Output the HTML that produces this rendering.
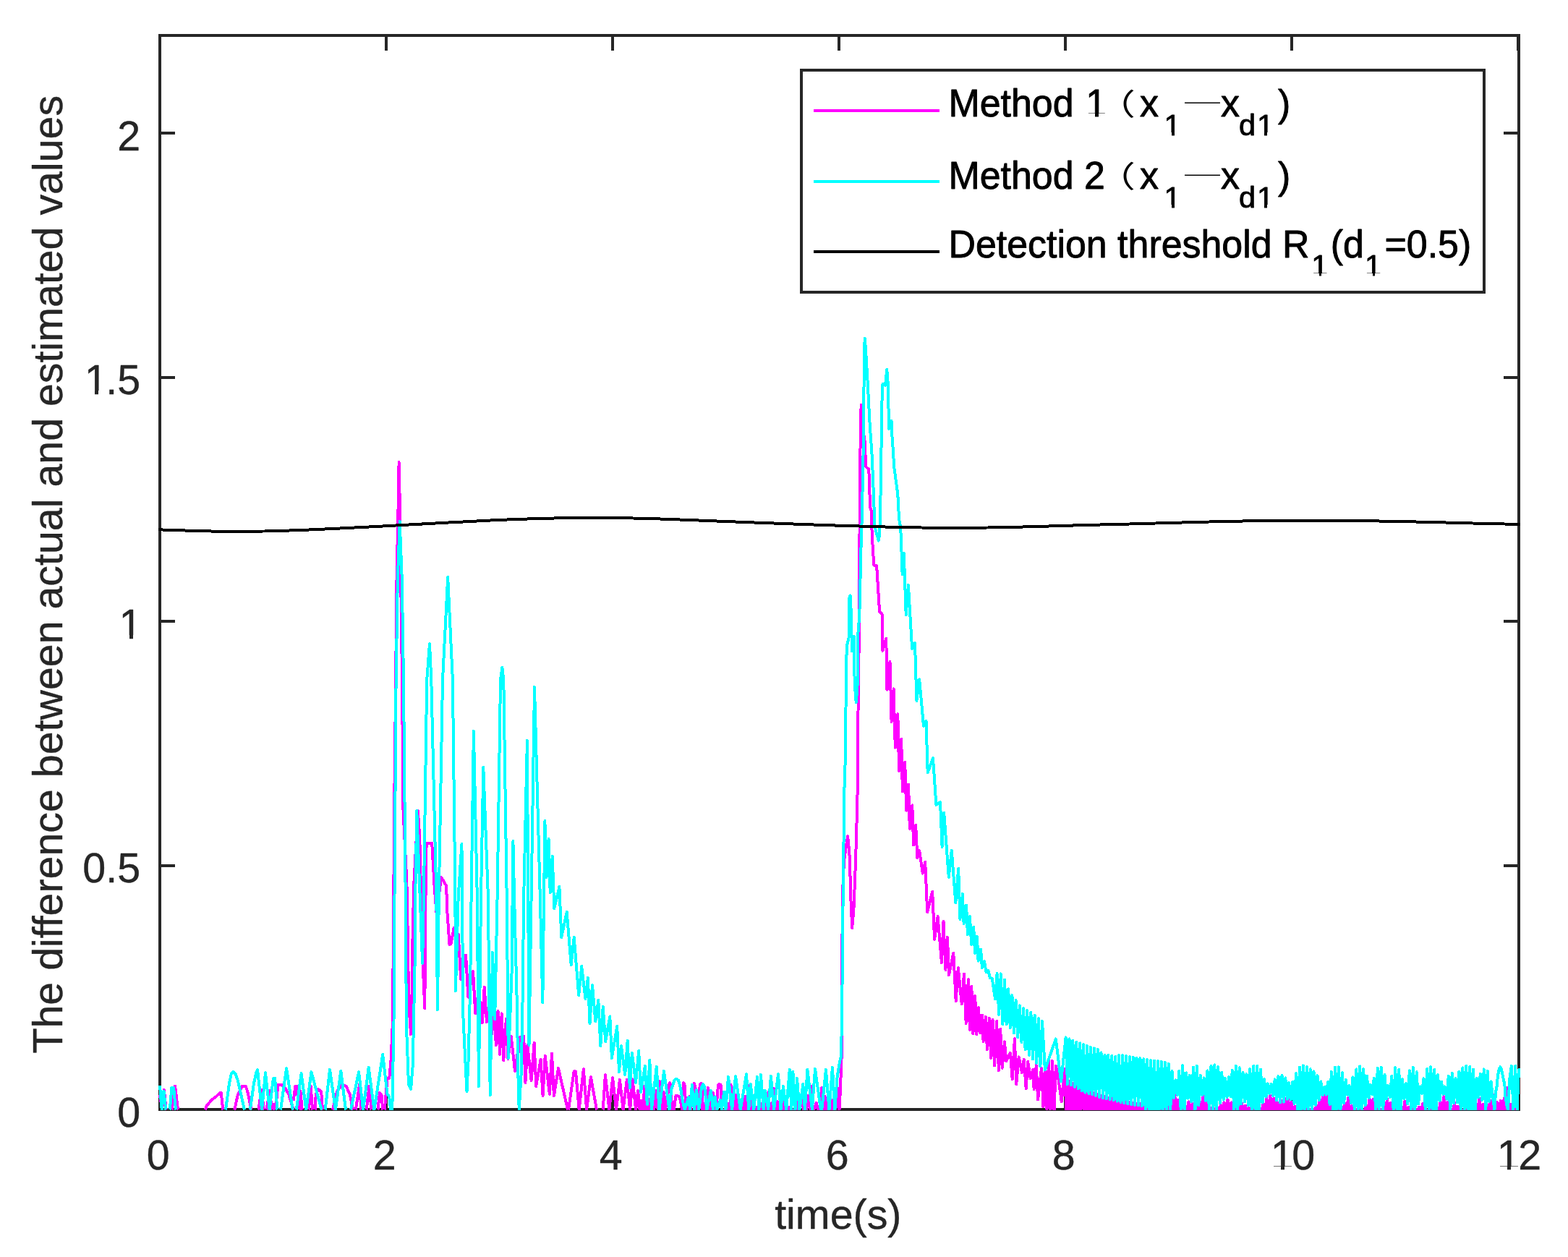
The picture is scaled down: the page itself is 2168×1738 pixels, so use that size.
<!DOCTYPE html>
<html lang="en"><head><meta charset="utf-8"><title>Detection threshold comparison</title>
<style>html,body{margin:0;padding:0;background:#fff}svg{display:block}text{font-kerning:normal}</style></head><body>
<svg xmlns="http://www.w3.org/2000/svg" width="2168" height="1738" viewBox="0 0 2168 1738">
<rect width="2168" height="1738" fill="#fff"/>
<defs><clipPath id="ax"><rect x="219" y="47" width="1883" height="1488"/></clipPath></defs>
<g shape-rendering="crispEdges"><rect x="221.0" y="49.0" width="1879.0" height="1485.0" fill="none" stroke="#262626" stroke-width="4"/>
<path d="M221.00 1534.0 V1513.0 M221.00 49.0 V70.0 M534.00 1534.0 V1513.0 M534.00 49.0 V70.0 M847.00 1534.0 V1513.0 M847.00 49.0 V70.0 M1160.00 1534.0 V1513.0 M1160.00 49.0 V70.0 M1473.00 1534.0 V1513.0 M1473.00 49.0 V70.0 M1786.00 1534.0 V1513.0 M1786.00 49.0 V70.0 M2099.00 1534.0 V1513.0 M2099.00 49.0 V70.0 M221.0 1534.00 H242.0 M2100.0 1534.00 H2079.0 M221.0 1196.50 H242.0 M2100.0 1196.50 H2079.0 M221.0 859.00 H242.0 M2100.0 859.00 H2079.0 M221.0 521.50 H242.0 M2100.0 521.50 H2079.0 M221.0 184.00 H242.0 M2100.0 184.00 H2079.0" stroke="#262626" stroke-width="4" fill="none"/></g>
<g clip-path="url(#ax)" shape-rendering="crispEdges">
<path d="M221.0 1514.2 L224.1 1534.5 L226.9 1506.8 L229.7 1534.5 M237.8 1534.5 L242.1 1501.6 L246.0 1534.5 M283.8 1534.5 L285.7 1529.0 L293.1 1520.2 L296.8 1517.9 L304.6 1510.9 L305.7 1510.9 L308.3 1534.5 M324.3 1534.5 L328.7 1514.2 L334.7 1502.0 L339.9 1502.0 L342.8 1511.2 L347.3 1534.5 M357.4 1534.5 L361.6 1506.7 L364.8 1534.5 M368.6 1534.5 L372.7 1507.7 L376.0 1534.5 M376.9 1534.5 L378.3 1526.7 L379.7 1534.5 M381.1 1534.5 L384.3 1500.2 L389.9 1500.2 L393.6 1503.5 L399.2 1512.8 L401.9 1522.0 L405.7 1534.5 M405.7 1522.0 L408.4 1501.6 L410.8 1501.6 L412.6 1534.5 M414.0 1534.5 L415.4 1509.0 L417.7 1534.5 M427.0 1534.5 L429.6 1501.6 L432.1 1534.5 M435.8 1534.5 L436.7 1512.8 L440.4 1506.3 L444.2 1509.5 L446.0 1534.5 M459.9 1534.5 L466.0 1509.0 L472.4 1500.2 L478.5 1501.6 L483.6 1512.8 L488.2 1534.5 M491.9 1534.5 L497.0 1499.8 L499.5 1534.5 M506.8 1534.5 L510.5 1501.6 L513.5 1534.5 M522.5 1534.5 L524.9 1510.9 L527.6 1514.6 L529.2 1534.5 M531.8 1534.5 L535.5 1491.4 L538.3 1490.5 L540.5 1466.4 L542.6 1420.0 L543.8 1313.0 L545.2 1110.0 L546.4 1010.0 L548.5 802.0 L550.6 700.0 L551.6 639.0 L552.9 700.0 L556.0 942.0 L556.7 1025.0 L557.5 1120.0 L562.4 1220.0 L563.3 1263.0 L564.1 1327.0 L565.9 1397.0 L568.0 1430.0 L569.4 1384.0 L570.6 1292.0 L572.3 1222.0 L577.8 1121.0 L580.3 1157.0 L581.2 1201.0 L582.4 1240.0 L584.5 1330.0 L587.3 1394.0 L588.5 1240.0 L589.6 1166.0 L597.2 1166.0 L600.7 1227.0 L603.5 1262.0 L610.2 1213.0 L617.2 1225.0 L618.1 1257.0 L621.5 1306.0 L623.6 1305.0 L627.6 1283.0 L633.7 1292.0 L637.2 1354.0 L644.1 1320.5 L647.3 1378.6 L654.1 1343.0 L657.2 1401.0 L662.0 1370.0 L666.8 1414.0 L669.7 1365.0 L672.9 1413.0 L677.0 1385.0 L680.0 1430.0 L683.0 1398.0 L685.9 1445.0 L688.5 1398.0 L691.1 1457.8 L693.7 1401.4 L696.3 1466.5 L699.8 1409.0 L702.4 1464.0 L706.8 1433.0 L712.0 1481.0 L719.0 1434.0 L721.5 1470.0 L724.2 1433.0 L726.4 1497.0 L729.4 1445.0 L734.6 1494.0 L738.6 1441.6 L741.2 1502.0 L747.6 1464.6 L750.6 1515.0 L753.7 1459.7 L759.8 1512.8 L763.0 1456.8 L765.9 1515.4 L772.0 1476.8 L785.0 1534.5 M786.0 1534.5 L793.6 1481.2 L796.0 1481.5 L800.7 1534.5 L806.8 1478.2 L811.1 1534.5 L816.9 1489.2 L825.0 1534.5 M833.7 1534.5 L836.9 1486.2 L842.4 1534.5 L847.1 1490.3 L852.0 1534.5 L856.9 1493.0 L861.6 1534.5 L866.8 1493.0 L871.1 1534.5 L874.6 1492.5 L879.1 1534.5 L882.1 1508.0 L884.6 1534.5 L887.0 1521.8 L888.6 1534.5 L891.5 1501.3 L893.2 1534.5 L895.1 1531.0 L896.2 1534.5 L897.6 1519.8 L898.3 1534.5 L904.1 1534.5 L905.3 1527.2 L906.4 1517.0 L907.5 1508.0 L908.5 1522.2 L909.7 1534.5 L911.8 1494.9 L912.7 1518.9 L914.1 1534.5 L915.7 1534.5 L916.9 1515.7 L917.6 1510.2 L918.7 1515.7 L919.9 1534.5 L923.6 1511.0 L924.5 1501.7 L925.9 1497.1 L927.8 1501.7 L928.5 1534.5 L930.3 1524.2 L932.0 1534.5 L933.3 1523.1 L934.3 1515.2 L935.9 1515.0 L938.9 1515.7 L940.3 1520.3 L941.7 1526.8 L942.9 1534.5 L943.5 1512.9 L945.2 1497.1 L947.2 1501.7 L947.7 1524.0 L948.6 1534.5 L950.5 1532.4 L951.4 1534.5 L953.3 1515.7 L955.1 1534.5 L958.4 1501.7 L959.8 1498.0 L961.6 1504.1 L963.0 1534.5 L966.3 1520.3 L967.7 1500.3 L969.3 1498.0 L970.7 1506.4 L971.1 1534.5 L971.6 1524.2 L972.3 1534.5 L975.1 1534.5 L975.5 1534.5 L976.4 1520.3 L978.9 1504.0 L980.6 1515.7 L981.5 1534.5 L984.3 1534.5 L985.8 1510.6 L987.5 1534.5 L990.3 1534.5 L991.5 1519.4 L992.9 1500.8 L994.5 1498.9 L996.6 1500.3 L997.0 1519.8 L997.7 1534.5 L1005.6 1534.5 L1007.0 1525.9 L1007.7 1534.5 L1009.3 1534.5 L1010.5 1499.9 L1011.6 1524.9 L1012.1 1534.5 L1015.8 1534.5 L1017.4 1513.8 L1019.1 1529.6 L1019.8 1534.5 L1027.9 1534.5 L1030.2 1515.7 L1031.3 1534.5 L1034.4 1534.5 L1035.5 1500.8 L1036.7 1534.5 L1037.4 1534.5 L1038.5 1520.3 L1039.9 1534.5 L1044.6 1534.5 L1046.2 1531.4 L1046.9 1534.5 L1052.0 1534.5 L1052.7 1526.3 L1053.4 1534.5 L1057.1 1534.5 L1058.5 1520.3 L1059.4 1518.9 L1060.8 1524.9 L1061.5 1534.5 L1061.7 1534.5 L1062.4 1510.1 L1063.1 1534.5 L1065.5 1534.5 L1066.4 1525.4 L1067.1 1534.5 L1068.7 1534.5 L1069.8 1505.0 L1070.0 1506.1 L1071.2 1520.3 L1071.9 1534.5 L1073.2 1534.5 L1075.1 1523.2 L1077.0 1534.5 L1082.1 1534.5 L1084.4 1516.0 L1086.0 1534.5 L1090.9 1534.5 L1091.6 1531.0 L1092.3 1534.5 L1102.0 1534.5 L1102.5 1520.9 L1105.2 1524.9 L1109.4 1516.0 L1110.8 1534.5 L1115.0 1534.5 L1116.8 1514.9 L1119.2 1529.6 L1121.0 1534.5 L1121.2 1534.5 L1122.0 1502.1 L1123.1 1534.5 L1125.0 1534.5 L1128.7 1525.1 L1130.8 1534.5 L1134.0 1534.5 L1135.9 1504.2 L1136.8 1534.5 L1139.1 1534.5 L1140.5 1516.0 L1142.4 1529.6 L1143.0 1534.5 L1144.2 1534.5 L1145.6 1529.6 L1146.5 1514.9 L1147.2 1534.5 L1149.8 1534.5 L1151.4 1520.9 L1152.6 1534.5 L1155.3 1534.5 L1158.4 1504.2 L1159.3 1520.3 L1160.5 1534.5 L1161.3 1519.8 L1162.1 1501.7 L1163.1 1473.0 L1163.7 1460.0 L1164.0 1400.0 L1164.2 1320.0 L1165.2 1230.0 L1167.0 1190.0 L1172.1 1156.0 L1174.4 1179.0 L1175.6 1214.0 L1176.6 1249.0 L1178.2 1283.0 L1180.4 1257.4 L1182.2 1214.0 L1183.9 1161.8 L1185.7 1092.0 L1186.0 1040.0 L1186.5 983.5 L1187.4 914.0 L1188.3 827.0 L1188.5 740.0 L1189.3 631.0 L1190.6 560.0 L1192.5 590.0 L1196.0 612.0 L1197.0 645.0 L1201.3 649.0 L1202.2 673.0 L1203.0 701.0 L1204.8 706.0 L1205.7 740.0 L1208.3 781.5 L1212.1 782.0 L1216.1 845.8 L1219.6 849.0 L1220.4 899.8 L1225.3 882.9 L1226.5 953.7 L1230.5 915.0 L1232.6 998.0 L1235.6 952.5 L1237.8 1033.7 L1241.3 987.2 L1243.1 1065.8 L1246.2 1022.0 L1247.9 1094.5 L1251.2 1054.0 L1253.2 1120.6 L1256.1 1084.6 L1257.8 1145.8 L1261.3 1113.3 L1263.1 1168.5 L1266.2 1141.0 L1268.3 1186.0 L1271.2 1176.0 L1275.8 1207.6 L1279.2 1191.6 L1282.2 1261.5 L1289.2 1232.5 L1292.1 1299.0 L1296.6 1267.0 L1301.9 1331.0 L1304.5 1274.0 L1307.4 1341.0 L1310.0 1296.0 L1312.0 1348.0 L1318.3 1318.0 L1321.7 1384.3 L1324.8 1338.2 L1329.8 1388.4 L1332.9 1346.5 L1335.7 1414.9 L1338.9 1354.2 L1340.8 1423.9 L1343.3 1363.9 L1345.4 1429.5 L1348.2 1377.1 L1350.3 1430.2 L1353.0 1393.1 L1355.1 1428.1 L1357.9 1403.6 L1359.6 1439.9 L1362.8 1405.7 L1364.9 1451.0 L1367.9 1407.7 L1370.2 1462.9 L1372.5 1409.8 L1375.0 1473.3 L1378.1 1411.9 L1380.9 1480.3 L1383.2 1423.0 L1385.7 1476.8 L1388.9 1440.4 L1391.3 1467.0 L1396.9 1455.7 L1399.7 1492.1 L1402.9 1436.3 L1405.2 1499.0 L1408.7 1461.3 L1412.9 1483.0 L1415.7 1464.8 L1418.7 1505.3 L1421.2 1467.6 L1424.7 1491.4 L1428.2 1478.7 L1429.6 1506.0 L1432.8 1473.1 L1435.1 1520.6 L1440.0 1477.3 L1442.5 1530.5 L1445.0 1471.2 L1447.5 1534.1 L1450.0 1467.1 L1452.5 1534.5 L1455.0 1467.0 L1457.5 1535.0 L1460.0 1474.0 L1462.3 1484.0 L1467.8 1523.5 L1471.9 1478.0 L1474.5 1540.0 L1477.0 1494.9 L1479.4 1540.0 L1481.8 1496.5 L1484.3 1540.0 L1486.8 1499.3 L1489.2 1540.0 L1491.7 1502.4 L1494.1 1540.0 L1496.5 1505.5 L1499.0 1540.0 L1501.5 1508.1 L1503.9 1540.0 L1506.3 1509.4 L1508.8 1540.0 L1511.2 1510.8 L1513.7 1540.0 L1516.2 1512.4 L1518.6 1540.0 L1521.0 1514.1 L1523.5 1540.0 L1526.0 1515.6 L1528.4 1540.0 L1530.8 1516.5 L1533.3 1540.0 L1535.8 1517.4 L1538.2 1540.0 L1540.7 1518.7 L1543.1 1540.0 L1545.5 1520.1 L1548.0 1540.0 L1550.5 1521.4 L1552.9 1540.0 L1555.3 1522.5 L1557.8 1540.0 L1560.2 1523.6 L1562.7 1540.0 L1565.2 1524.6 L1567.6 1540.0 L1570.0 1525.2 L1572.5 1540.0 L1575.0 1525.8 L1577.4 1540.0 L1579.8 1526.2 L1582.3 1540.0 L1584.8 1526.4 L1587.2 1540.0 L1589.7 1526.6 L1592.1 1540.0 L1594.5 1527.1 L1597.0 1540.0 L1599.5 1527.7 L1601.9 1540.0 L1604.3 1528.3 L1606.8 1540.0 L1609.2 1528.6 L1611.7 1540.0 L1614.2 1528.8 L1616.6 1540.0 L1619.0 1525.1 L1621.5 1540.0 L1624.0 1511.4 L1626.4 1540.0 L1628.8 1520.6 L1631.3 1540.0 L1633.8 1529.3 L1636.2 1540.0 L1638.7 1529.0 L1641.1 1540.0 L1643.5 1523.3 L1646.0 1540.0 L1648.5 1525.9 L1650.9 1540.0 L1653.3 1531.2 L1655.8 1540.0 L1658.2 1522.6 L1660.7 1540.0 L1663.2 1515.1 L1665.6 1540.0 L1668.0 1524.2 L1670.5 1540.0 L1673.0 1531.6 L1675.4 1540.0 L1677.8 1532.3 L1680.3 1540.0 L1682.8 1530.5 L1685.2 1540.0 L1687.7 1528.2 L1690.1 1540.0 L1692.5 1524.4 L1695.0 1540.0 L1697.5 1520.5 L1699.9 1540.0 L1702.3 1524.5 L1704.8 1540.0 L1707.2 1530.8 L1709.7 1540.0 L1712.2 1528.1 L1714.6 1540.0 L1717.0 1525.3 L1719.5 1540.0 L1722.0 1528.5 L1724.4 1540.0 L1726.8 1532.1 L1729.3 1540.0 L1731.8 1532.1 L1734.2 1540.0 L1736.7 1532.1 L1739.1 1540.0 L1741.5 1532.1 L1744.0 1540.0 L1746.5 1526.2 L1748.9 1540.0 L1751.3 1517.9 L1753.8 1540.0 L1756.2 1514.2 L1758.7 1540.0 L1761.2 1518.7 L1763.6 1540.0 L1766.0 1524.4 L1768.5 1540.0 L1771.0 1521.4 L1773.4 1540.0 L1775.8 1518.3 L1778.3 1540.0 L1780.8 1515.4 L1783.2 1540.0 L1785.7 1523.7 L1788.1 1540.0 L1790.5 1529.8 L1793.0 1540.0 L1795.5 1533.6 L1797.9 1540.0 L1800.3 1533.6 L1802.8 1540.0 L1805.2 1533.6 L1807.7 1540.0 L1810.2 1533.6 L1812.6 1540.0 L1815.0 1533.6 L1817.5 1540.0 L1820.0 1527.9 L1822.4 1540.0 L1824.8 1519.5 L1827.3 1540.0 L1829.8 1507.2 L1832.2 1540.0 L1834.7 1511.3 L1837.1 1540.0 L1839.5 1527.2 L1842.0 1540.0 L1844.5 1533.6 L1846.9 1540.0 L1849.3 1533.6 L1851.8 1540.0 L1854.2 1533.6 L1856.7 1540.0 L1859.2 1525.3 L1861.6 1540.0 L1864.0 1518.2 L1866.5 1540.0 L1869.0 1529.1 L1871.4 1540.0 L1873.8 1532.5 L1876.3 1540.0 L1878.8 1532.9 L1881.2 1540.0 L1883.7 1533.4 L1886.1 1540.0 L1888.5 1528.2 L1891.0 1540.0 L1893.5 1519.1 L1895.9 1540.0 L1898.3 1520.3 L1900.8 1540.0 L1903.2 1533.6 L1905.7 1540.0 L1908.2 1533.6 L1910.6 1540.0 L1913.0 1530.5 L1915.5 1540.0 L1918.0 1519.7 L1920.4 1540.0 L1922.8 1524.6 L1925.3 1540.0 L1927.8 1533.6 L1930.2 1540.0 L1932.7 1533.6 L1935.1 1540.0 L1937.5 1531.1 L1940.0 1540.0 L1942.5 1522.2 L1944.9 1540.0 L1947.3 1530.6 L1949.8 1540.0 L1952.2 1533.6 L1954.7 1540.0 L1957.2 1533.6 L1959.6 1540.0 L1962.0 1530.7 L1964.5 1540.0 L1967.0 1526.3 L1969.4 1540.0 L1971.8 1533.6 L1974.3 1540.0 L1976.8 1533.6 L1979.2 1540.0 L1981.7 1533.6 L1984.1 1540.0 L1986.5 1531.2 L1989.0 1540.0 L1991.5 1523.1 L1993.9 1540.0 L1996.3 1516.3 L1998.8 1540.0 L2001.2 1524.0 L2003.7 1540.0 L2006.2 1533.6 L2008.6 1540.0 L2011.0 1524.7 L2013.5 1540.0 L2016.0 1529.8 L2018.4 1540.0 L2020.8 1533.6 L2023.3 1540.0 L2025.8 1533.6 L2028.2 1540.0 L2030.7 1533.6 L2033.1 1540.0 L2035.5 1533.6 L2038.0 1540.0 L2040.5 1532.9 L2042.9 1540.0 L2045.3 1518.2 L2047.8 1540.0 L2050.2 1527.0 L2052.7 1540.0 L2055.2 1529.3 L2057.6 1540.0 L2060.1 1521.5 L2062.5 1540.0 L2064.9 1514.2 L2067.4 1540.0 L2069.8 1523.6 L2072.3 1540.0 L2074.8 1521.7 L2077.2 1540.0 L2079.7 1518.6 L2082.1 1540.0 L2084.6 1504.0 L2087.0 1540.0 L2089.4 1526.6 L2091.9 1540.0 L2094.3 1532.5 L2096.8 1540.0" fill="none" stroke="#ff00ff" stroke-width="4" stroke-linejoin="round" stroke-linecap="butt"/>
<path d="M221.0 1500.8 L223.7 1534.5 L226.5 1508.7 L229.4 1534.5 M234.9 1534.5 L237.3 1503.7 L240.1 1504.2 L243.0 1534.5 M312.0 1534.5 L316.9 1498.6 L319.8 1484.5 L322.1 1481.9 L325.4 1484.5 L328.7 1493.4 L338.0 1534.5 M345.8 1534.5 L351.0 1497.9 L354.3 1483.0 L356.0 1478.9 L362.1 1534.5 L367.0 1483.1 L372.7 1534.5 L377.8 1491.4 L380.1 1491.0 L383.4 1534.5 M388.0 1534.5 L396.1 1477.0 L404.7 1534.5 M409.8 1534.5 L416.6 1484.0 L423.3 1534.5 L430.5 1482.2 L444.6 1534.5 M449.7 1534.5 L456.0 1478.9 L463.9 1534.5 L471.3 1480.8 L478.0 1534.5 M485.0 1534.5 L496.1 1482.2 L502.1 1534.5 L509.7 1476.1 L517.4 1534.5 L529.2 1458.0 L535.5 1512.8 L538.3 1516.5 L540.0 1534.5 L542.3 1534.5 L544.5 1414.0 L545.5 1240.0 L547.6 940.0 L549.8 802.0 L552.7 721.0 L555.8 802.0 L558.0 940.0 L560.7 1240.0 L561.2 1335.0 L562.4 1431.0 L565.0 1500.0 L568.1 1506.0 L570.6 1474.8 L572.0 1414.0 L573.7 1327.0 L574.2 1240.0 L576.3 1121.0 L580.7 1240.0 L584.1 1332.0 L585.9 1240.0 L590.2 940.0 L594.0 890.0 L596.3 940.0 L603.3 1240.0 L605.0 1396.0 L606.8 1240.0 L612.0 940.0 L619.2 798.0 L625.9 940.0 L629.4 1240.0 L629.9 1370.0 L633.7 1240.0 L638.4 1167.0 L639.3 1240.0 L639.8 1393.0 L643.3 1466.0 L645.5 1509.0 L647.6 1466.0 L650.2 1361.8 L651.6 1240.0 L654.9 1011.0 L659.8 1240.0 L661.9 1502.0 L665.0 1240.0 L668.3 1061.0 L674.9 1240.0 L677.7 1514.0 L681.0 1317.0 L684.2 1409.0 L687.6 1240.0 L692.0 940.0 L694.4 923.0 L696.3 940.0 L700.7 1240.0 L702.8 1463.0 L705.0 1414.0 L707.6 1344.0 L709.4 1163.0 L711.1 1240.0 L714.6 1379.0 L716.3 1483.5 L717.7 1534.5 L720.7 1483.5 L722.4 1396.5 L724.2 1240.0 L728.9 1024.0 L730.2 1240.0 L731.5 1445.0 L734.6 1240.0 L739.0 950.0 L746.8 1240.0 L750.3 1386.0 L753.4 1135.0 L755.5 1213.0 L758.6 1160.0 L760.7 1234.0 L763.7 1184.0 L766.3 1256.0 L773.4 1226.0 L776.3 1296.0 L783.7 1261.0 L789.7 1334.0 L793.7 1296.0 L800.2 1376.0 L804.2 1336.0 L809.4 1381.0 L812.9 1352.0 L815.5 1415.0 L819.0 1362.0 L823.3 1412.0 L827.3 1383.0 L830.3 1446.0 L833.7 1392.0 L837.2 1440.0 L843.3 1405.5 L845.9 1463.0 L853.2 1418.6 L856.0 1482.0 L859.0 1446.0 L864.2 1486.0 L867.7 1439.0 L870.8 1504.0 L873.8 1456.0 L879.0 1497.0 L883.2 1453.0 L886.0 1509.9 L891.8 1474.0 L894.8 1526.8 L898.3 1465.9 L900.9 1534.5 L907.8 1475.0 L911.5 1534.5 L918.0 1480.9 L925.5 1534.5 L928.2 1506.4 L931.0 1498.5 L932.4 1493.4 L935.0 1491.9 L937.8 1493.4 L939.4 1498.5 L941.7 1508.2 L943.1 1518.0 L944.9 1527.2 L946.8 1534.5 L951.9 1517.3 L954.2 1534.5 L956.8 1500.1 L959.8 1534.5 L963.0 1507.0 L966.3 1534.5 L968.1 1521.7 L969.0 1512.9 L970.0 1503.6 L972.1 1499.0 L974.2 1503.1 L975.5 1514.7 L976.5 1526.8 L977.4 1534.5 L977.3 1534.5 L982.9 1507.9 L985.9 1534.5 L988.5 1516.3 L991.2 1534.5 L995.9 1520.9 L998.0 1534.5 L1001.0 1509.8 L1003.4 1534.5 L1007.0 1488.9 L1012.1 1534.5 L1017.0 1488.0 L1023.7 1534.5 L1032.0 1485.0 L1035.3 1534.5 L1037.8 1498.9 L1042.2 1534.5 L1046.9 1488.9 L1049.4 1534.5 L1052.0 1485.9 L1055.7 1534.5 L1058.0 1507.9 L1062.2 1534.5 L1065.9 1488.0 L1070.1 1534.5 L1076.0 1485.0 L1079.5 1534.5 L1083.0 1501.9 L1087.2 1534.5 L1091.8 1478.9 L1094.3 1534.5 L1096.4 1481.9 L1099.5 1534.5 L1102.0 1491.0 L1105.5 1534.5 L1110.3 1498.9 L1112.9 1534.5 L1116.4 1478.9 L1122.9 1534.5 L1127.0 1477.8 L1134.9 1534.5 L1136.3 1534.5 L1141.9 1478.9 L1146.5 1534.5 L1150.9 1475.9 L1154.4 1534.5 L1157.3 1491.1 L1158.3 1485.0 L1159.2 1479.0 L1160.1 1473.0 L1161.0 1468.1 L1162.0 1464.2 L1163.1 1460.0 L1164.0 1400.0 L1164.8 1340.0 L1165.7 1231.0 L1167.4 1092.0 L1169.1 1040.0 L1169.3 1001.0 L1170.0 922.6 L1170.9 893.0 L1173.5 882.6 L1174.4 827.0 L1175.6 823.5 L1177.0 851.0 L1177.8 900.0 L1180.8 880.0 L1181.3 931.0 L1183.0 966.0 L1183.9 971.0 L1185.7 945.0 L1186.5 874.0 L1188.3 851.0 L1190.0 780.0 L1190.9 740.0 L1191.7 720.0 L1193.5 631.0 L1194.4 544.0 L1195.2 483.0 L1195.7 468.0 L1197.0 483.0 L1199.6 527.0 L1202.2 579.0 L1205.7 631.0 L1208.3 692.0 L1209.1 727.0 L1214.7 747.5 L1216.1 740.0 L1217.0 718.0 L1217.8 666.0 L1218.7 607.0 L1219.6 548.0 L1220.4 531.0 L1224.0 533.0 L1226.2 511.0 L1227.4 523.5 L1228.3 555.0 L1229.1 593.0 L1232.6 582.0 L1233.5 603.5 L1235.2 628.0 L1236.1 645.0 L1238.7 664.0 L1241.3 683.5 L1243.1 718.0 L1244.8 727.0 L1245.7 740.0 L1247.6 794.0 L1249.8 765.0 L1252.7 850.0 L1255.9 808.8 L1261.1 897.0 L1265.0 889.0 L1267.4 969.0 L1271.2 939.4 L1277.0 1004.0 L1280.5 996.8 L1282.7 1068.4 L1290.0 1048.0 L1294.4 1112.8 L1300.0 1109.0 L1302.6 1171.0 L1305.2 1123.8 L1311.8 1212.8 L1315.8 1176.0 L1321.3 1248.5 L1325.2 1201.0 L1327.4 1271.0 L1330.9 1236.0 L1332.6 1277.0 L1336.1 1251.6 L1337.9 1292.0 L1341.0 1267.0 L1343.1 1306.0 L1346.2 1282.0 L1348.0 1318.0 L1350.9 1295.0 L1352.6 1328.5 L1356.1 1312.5 L1357.9 1338.0 L1361.0 1329.0 L1363.5 1343.9 L1366.3 1341.7 L1369.0 1352.3 L1371.8 1352.8 L1376.0 1381.5 L1378.6 1346.0 L1381.2 1402.9 L1383.8 1346.4 L1386.4 1416.2 L1389.0 1354.4 L1391.6 1416.3 L1394.2 1367.4 L1396.8 1421.0 L1399.4 1376.2 L1402.0 1428.2 L1404.6 1383.1 L1407.2 1434.2 L1409.8 1390.3 L1412.4 1441.0 L1415.0 1394.2 L1417.6 1451.2 L1420.2 1397.1 L1422.8 1458.9 L1425.4 1399.9 L1428.0 1464.2 L1430.6 1403.8 L1433.2 1469.8 L1435.8 1408.2 L1438.4 1474.5 L1441.0 1411.9 L1444.9 1479.0 L1459.8 1436.5 L1467.1 1495.5 L1473.6 1434.5 L1476.0 1499.0 L1478.5 1436.5 L1480.9 1500.6 L1483.3 1438.9 L1485.8 1502.9 L1488.2 1440.6 L1490.7 1505.5 L1493.2 1442.4 L1495.6 1508.2 L1498.0 1444.2 L1500.5 1510.7 L1503.0 1446.0 L1505.4 1512.1 L1507.8 1447.8 L1510.3 1513.4 L1512.8 1449.3 L1515.2 1514.9 L1517.7 1450.8 L1520.1 1516.7 L1522.5 1455.4 L1525.0 1518.3 L1527.5 1458.6 L1529.9 1519.2 L1532.3 1458.6 L1534.8 1520.1 L1537.2 1459.6 L1539.7 1521.3 L1542.2 1460.8 L1544.6 1522.7 L1547.0 1459.3 L1549.5 1524.0 L1552.0 1459.3 L1554.4 1525.2 L1556.8 1460.2 L1559.3 1526.3 L1561.8 1461.2 L1564.2 1527.3 L1566.7 1462.0 L1569.1 1528.0 L1571.5 1462.6 L1574.0 1528.6 L1576.5 1463.2 L1578.9 1529.0 L1581.3 1464.2 L1583.8 1537.5 L1586.2 1465.2 L1588.7 1537.5 L1591.2 1466.2 L1593.6 1537.5 L1596.0 1466.7 L1598.5 1537.5 L1601.0 1467.2 L1603.4 1537.5 L1605.8 1467.7 L1608.3 1537.5 L1610.8 1468.6 L1613.2 1537.5 L1615.7 1470.6 L1618.1 1537.5 L1620.5 1481.0 L1623.0 1518.0 L1625.5 1493.4 L1627.9 1514.0 L1630.3 1481.0 L1632.8 1537.5 L1635.2 1473.2 L1637.7 1537.5 L1640.2 1483.3 L1642.6 1518.7 L1645.0 1486.9 L1647.5 1523.5 L1650.0 1475.7 L1652.4 1537.5 L1654.8 1473.9 L1657.3 1528.1 L1659.8 1486.7 L1662.2 1514.0 L1664.7 1490.3 L1667.1 1521.7 L1669.5 1480.3 L1672.0 1537.5 L1674.5 1474.1 L1676.9 1537.5 L1679.3 1472.4 L1681.8 1537.5 L1684.2 1475.1 L1686.7 1525.5 L1689.2 1482.5 L1691.6 1520.7 L1694.0 1490.9 L1696.5 1516.9 L1699.0 1489.0 L1701.4 1515.9 L1703.8 1479.6 L1706.3 1537.5 L1708.8 1473.8 L1711.2 1537.5 L1713.7 1476.2 L1716.1 1526.5 L1718.5 1483.0 L1721.0 1523.5 L1723.5 1485.2 L1725.9 1528.3 L1728.3 1478.1 L1730.8 1537.5 L1733.2 1473.8 L1735.7 1537.5 L1738.2 1473.9 L1740.6 1537.5 L1743.0 1478.4 L1745.5 1524.6 L1748.0 1492.0 L1750.4 1516.6 L1752.8 1498.3 L1755.3 1512.5 L1757.8 1498.9 L1760.2 1515.3 L1762.7 1492.5 L1765.1 1521.6 L1767.5 1488.2 L1770.0 1524.6 L1772.5 1487.0 L1774.9 1523.6 L1777.3 1490.3 L1779.8 1519.7 L1782.2 1497.3 L1784.7 1520.0 L1787.2 1495.9 L1789.6 1526.0 L1792.0 1484.3 L1794.5 1537.5 L1797.0 1475.8 L1799.4 1537.5 L1801.8 1473.3 L1804.3 1537.5 L1806.8 1475.1 L1809.2 1537.5 L1811.7 1478.2 L1814.1 1537.5 L1816.5 1481.5 L1819.0 1528.0 L1821.5 1487.2 L1823.9 1521.2 L1826.3 1495.3 L1828.8 1513.8 L1831.2 1503.0 L1833.7 1513.7 L1836.2 1495.5 L1838.6 1527.2 L1841.0 1482.0 L1843.5 1537.5 L1846.0 1475.5 L1848.4 1537.5 L1850.8 1475.3 L1853.3 1537.5 L1855.8 1483.1 L1858.2 1525.1 L1860.7 1492.9 L1863.1 1513.6 L1865.5 1500.7 L1868.0 1525.0 L1870.5 1489.3 L1872.9 1537.5 L1875.3 1478.4 L1877.8 1537.5 L1880.2 1474.3 L1882.7 1537.5 L1885.2 1478.1 L1887.6 1528.4 L1890.0 1487.8 L1892.5 1517.9 L1895.0 1499.8 L1897.4 1513.5 L1899.8 1490.9 L1902.3 1537.5 L1904.8 1477.0 L1907.2 1537.5 L1909.7 1475.9 L1912.1 1537.5 L1914.5 1485.8 L1917.0 1519.5 L1919.5 1501.2 L1921.9 1517.2 L1924.3 1487.8 L1926.8 1537.5 L1929.2 1476.2 L1931.7 1537.5 L1934.2 1478.8 L1936.6 1537.5 L1939.0 1492.3 L1941.5 1519.2 L1944.0 1498.3 L1946.4 1526.5 L1948.8 1480.3 L1951.3 1537.5 L1953.8 1475.9 L1956.2 1537.5 L1958.7 1482.2 L1961.1 1526.6 L1963.5 1502.3 L1966.0 1512.1 L1968.5 1491.2 L1970.9 1537.5 L1973.3 1478.0 L1975.8 1537.5 L1978.2 1475.1 L1980.7 1537.5 L1983.2 1478.6 L1985.6 1537.5 L1988.0 1486.2 L1990.5 1521.9 L1993.0 1495.6 L1995.4 1512.8 L1997.8 1502.5 L2000.3 1519.6 L2002.8 1487.8 L2005.2 1537.5 L2007.7 1484.1 L2010.1 1525.2 L2012.5 1490.7 L2015.0 1524.5 L2017.5 1481.6 L2019.9 1537.5 L2022.3 1476.3 L2024.8 1537.5 L2027.2 1473.9 L2029.7 1537.5 L2032.2 1474.7 L2034.6 1537.5 L2037.0 1478.4 L2039.5 1537.5 L2042.0 1490.9 L2044.4 1517.0 L2046.8 1484.7 L2049.3 1520.9 L2051.8 1478.4 L2054.2 1537.5 L2056.7 1480.6 L2059.1 1522.8 L2061.6 1495.4 L2064.0 1518.2 L2066.5 1534.5 L2068.0 1510.0 L2069.9 1500.8 L2070.8 1488.6 L2072.5 1479.0 L2074.4 1475.2 L2076.0 1479.0 L2077.5 1486.2 L2079.9 1497.1 L2080.8 1503.8 L2081.4 1515.9 L2083.8 1531.1 L2085.0 1534.5 L2087.5 1490.0 L2089.9 1473.9 L2092.4 1534.5 L2095.1 1473.9 L2097.6 1534.5 L2100.0 1479.0 L2103.0 1479.0" fill="none" stroke="#00ffff" stroke-width="4" stroke-linejoin="round" stroke-linecap="butt"/>
<path d="M219.0 732.3 L256.0 733.5 L292.0 734.5 L330.0 734.7 L366.0 734.5 L400.0 733.5 L432.0 732.3 L470.0 730.5 L510.0 728.5 L544.0 726.7 L580.0 724.7 L620.0 722.5 L650.0 721.0 L690.0 718.9 L738.0 717.2 L770.0 716.4 L796.0 715.9 L820.0 715.6 L845.0 715.9 L875.0 716.5 L905.0 717.2 L940.0 718.5 L996.0 720.7 L1030.0 722.0 L1067.0 723.4 L1110.0 725.0 L1160.0 726.7 L1215.0 728.3 L1259.0 729.3 L1310.0 730.0 L1366.0 729.5 L1424.0 728.3 L1497.0 726.1 L1562.0 724.5 L1630.0 722.6 L1672.0 721.5 L1728.0 720.3 L1800.0 719.6 L1879.0 720.0 L1945.0 721.2 L1991.0 722.3 L2036.0 723.5 L2080.0 724.5 L2102.0 725.0" fill="none" stroke="#000000" stroke-width="4" stroke-linejoin="round" stroke-linecap="butt"/>
</g>
<text transform="translate(218.80 1617.30)" font-size="57.4" text-anchor="middle" fill="#262626" font-family="Liberation Sans, Arial, sans-serif" xml:space="preserve" stroke="#262626" stroke-width="0.4" stroke-linejoin="round">0</text>
<text transform="translate(531.80 1617.30)" font-size="57.4" text-anchor="middle" fill="#262626" font-family="Liberation Sans, Arial, sans-serif" xml:space="preserve" stroke="#262626" stroke-width="0.4" stroke-linejoin="round">2</text>
<text transform="translate(844.80 1617.30)" font-size="57.4" text-anchor="middle" fill="#262626" font-family="Liberation Sans, Arial, sans-serif" xml:space="preserve" stroke="#262626" stroke-width="0.4" stroke-linejoin="round">4</text>
<text transform="translate(1157.80 1617.30)" font-size="57.4" text-anchor="middle" fill="#262626" font-family="Liberation Sans, Arial, sans-serif" xml:space="preserve" stroke="#262626" stroke-width="0.4" stroke-linejoin="round">6</text>
<text transform="translate(1470.80 1617.30)" font-size="57.4" text-anchor="middle" fill="#262626" font-family="Liberation Sans, Arial, sans-serif" xml:space="preserve" stroke="#262626" stroke-width="0.4" stroke-linejoin="round">8</text>
<text transform="translate(1754.27 1617.30)" font-size="57.4" text-anchor="start" fill="#262626" font-family="Liberation Sans, Arial, sans-serif" xml:space="preserve" stroke="#262626" stroke-width="0.4" stroke-linejoin="round"><tspan dx="2.41">1</tspan><tspan dx="-2.41">0</tspan></text>
<text transform="translate(2067.27 1617.30)" font-size="57.4" text-anchor="start" fill="#262626" font-family="Liberation Sans, Arial, sans-serif" xml:space="preserve" stroke="#262626" stroke-width="0.4" stroke-linejoin="round"><tspan dx="2.41">1</tspan><tspan dx="-2.41">2</tspan></text>
<text transform="translate(194.10 1557.60)" font-size="57.4" text-anchor="end" fill="#262626" font-family="Liberation Sans, Arial, sans-serif" xml:space="preserve" stroke="#262626" stroke-width="0.4" stroke-linejoin="round">0</text>
<text transform="translate(194.10 1220.10)" font-size="57.4" text-anchor="end" fill="#262626" font-family="Liberation Sans, Arial, sans-serif" xml:space="preserve" stroke="#262626" stroke-width="0.4" stroke-linejoin="round">0.5</text>
<text transform="translate(162.17 882.60)" font-size="57.4" text-anchor="start" fill="#262626" font-family="Liberation Sans, Arial, sans-serif" xml:space="preserve" stroke="#262626" stroke-width="0.4" stroke-linejoin="round"><tspan dx="2.41">1</tspan></text>
<text transform="translate(114.29 545.10)" font-size="57.4" text-anchor="start" fill="#262626" font-family="Liberation Sans, Arial, sans-serif" xml:space="preserve" stroke="#262626" stroke-width="0.4" stroke-linejoin="round"><tspan dx="2.41">1</tspan><tspan dx="-2.41">.</tspan>5</text>
<text transform="translate(194.10 207.60)" font-size="57.4" text-anchor="end" fill="#262626" font-family="Liberation Sans, Arial, sans-serif" xml:space="preserve" stroke="#262626" stroke-width="0.4" stroke-linejoin="round">2</text>
<text transform="translate(1158.80 1698.60)" font-size="57.4" text-anchor="middle" fill="#262626" font-family="Liberation Sans, Arial, sans-serif" xml:space="preserve" stroke="#262626" stroke-width="0.4" stroke-linejoin="round">time(s)</text>
<text transform="translate(85.9 794.2) rotate(-90)" font-size="57.34" text-anchor="middle" fill="#262626" stroke="#262626" stroke-width="0.4" font-family="Liberation Sans, Arial, sans-serif">The difference between actual and estimated values</text>
<g shape-rendering="crispEdges"><rect x="1108" y="97" width="944" height="307" fill="#fff" stroke="#262626" stroke-width="4"/>
<path d="M1125 152.7 H1299" stroke="#ff00ff" stroke-width="4"/><path d="M1125 250.9 H1299" stroke="#00ffff" stroke-width="4"/><path d="M1125 348.1 H1299" stroke="#000" stroke-width="4"/></g>
<text transform="translate(1311.50 160.90) scale(1 1.02)" font-size="51.9" text-anchor="start" fill="#000" font-family="Liberation Sans, Arial, sans-serif" xml:space="preserve" stroke="#000" stroke-width="0.9" stroke-linejoin="round">Method <tspan dx="2.18">1</tspan><tspan dx="-2.18"> </tspan></text>
<text transform="translate(1516.20 158.90) scale(1.3 1.0)" font-size="41.3" text-anchor="start" fill="#000" font-family="Noto Sans CJK SC, sans-serif" xml:space="preserve">（</text>
<text transform="translate(1576.00 160.90) scale(1 1.02)" font-size="51.9" text-anchor="start" fill="#000" font-family="Liberation Sans, Arial, sans-serif" xml:space="preserve" stroke="#000" stroke-width="0.9" stroke-linejoin="round">x</text>
<text transform="translate(1607.70 186.80)" font-size="41.5" text-anchor="start" fill="#000" font-family="Liberation Sans, Arial, sans-serif" xml:space="preserve" stroke="#000" stroke-width="0.9" stroke-linejoin="round"><tspan dx="1.74">1</tspan></text>
<text transform="translate(1637.90 148.20) scale(1 0.5)" font-size="49" text-anchor="start" fill="#000" font-family="Liberation Sans, Arial, sans-serif" xml:space="preserve">—</text>
<text transform="translate(1688.00 160.90) scale(1 1.02)" font-size="51.9" text-anchor="start" fill="#000" font-family="Liberation Sans, Arial, sans-serif" xml:space="preserve" stroke="#000" stroke-width="0.9" stroke-linejoin="round">x</text>
<text transform="translate(1713.10 186.80)" font-size="41.5" text-anchor="start" fill="#000" font-family="Liberation Sans, Arial, sans-serif" xml:space="preserve" stroke="#000" stroke-width="0.9" stroke-linejoin="round">d<tspan dx="1.74">1</tspan></text>
<text transform="translate(1767.00 160.90)" font-size="51.9" text-anchor="start" fill="#000" font-family="Liberation Sans, Arial, sans-serif" xml:space="preserve" stroke="#000" stroke-width="0.9" stroke-linejoin="round">)</text>
<text transform="translate(1311.50 260.90) scale(1 1.02)" font-size="51.9" text-anchor="start" fill="#000" font-family="Liberation Sans, Arial, sans-serif" xml:space="preserve" stroke="#000" stroke-width="0.9" stroke-linejoin="round">Method 2 </text>
<text transform="translate(1516.20 258.90) scale(1.3 1.0)" font-size="41.3" text-anchor="start" fill="#000" font-family="Noto Sans CJK SC, sans-serif" xml:space="preserve">（</text>
<text transform="translate(1576.00 260.90) scale(1 1.02)" font-size="51.9" text-anchor="start" fill="#000" font-family="Liberation Sans, Arial, sans-serif" xml:space="preserve" stroke="#000" stroke-width="0.9" stroke-linejoin="round">x</text>
<text transform="translate(1607.70 286.80)" font-size="41.5" text-anchor="start" fill="#000" font-family="Liberation Sans, Arial, sans-serif" xml:space="preserve" stroke="#000" stroke-width="0.9" stroke-linejoin="round"><tspan dx="1.74">1</tspan></text>
<text transform="translate(1637.90 248.20) scale(1 0.5)" font-size="49" text-anchor="start" fill="#000" font-family="Liberation Sans, Arial, sans-serif" xml:space="preserve">—</text>
<text transform="translate(1688.00 260.90) scale(1 1.02)" font-size="51.9" text-anchor="start" fill="#000" font-family="Liberation Sans, Arial, sans-serif" xml:space="preserve" stroke="#000" stroke-width="0.9" stroke-linejoin="round">x</text>
<text transform="translate(1713.10 286.80)" font-size="41.5" text-anchor="start" fill="#000" font-family="Liberation Sans, Arial, sans-serif" xml:space="preserve" stroke="#000" stroke-width="0.9" stroke-linejoin="round">d<tspan dx="1.74">1</tspan></text>
<text transform="translate(1767.00 260.90)" font-size="51.9" text-anchor="start" fill="#000" font-family="Liberation Sans, Arial, sans-serif" xml:space="preserve" stroke="#000" stroke-width="0.9" stroke-linejoin="round">)</text>
<text transform="translate(1311.50 356.10) scale(1 1.02)" font-size="51.9" text-anchor="start" fill="#000" font-family="Liberation Sans, Arial, sans-serif" xml:space="preserve" stroke="#000" stroke-width="0.9" stroke-linejoin="round">Detection threshold R</text>
<text transform="translate(1811.60 381.10)" font-size="41.5" text-anchor="start" fill="#000" font-family="Liberation Sans, Arial, sans-serif" xml:space="preserve" stroke="#000" stroke-width="0.9" stroke-linejoin="round"><tspan dx="1.74">1</tspan></text>
<text transform="translate(1839.70 356.10) scale(1 1.02)" font-size="51.9" text-anchor="start" fill="#000" font-family="Liberation Sans, Arial, sans-serif" xml:space="preserve" stroke="#000" stroke-width="0.9" stroke-linejoin="round">(d</text>
<text transform="translate(1885.30 381.10)" font-size="41.5" text-anchor="start" fill="#000" font-family="Liberation Sans, Arial, sans-serif" xml:space="preserve" stroke="#000" stroke-width="0.9" stroke-linejoin="round"><tspan dx="1.74">1</tspan></text>
<text transform="translate(1914.50 356.10) scale(1 1.02)" font-size="51.9" text-anchor="start" fill="#000" font-family="Liberation Sans, Arial, sans-serif" xml:space="preserve" stroke="#000" stroke-width="0.9" stroke-linejoin="round">=0.5)</text>
<g fill="#fff" shape-rendering="crispEdges"><rect x="1759.55" y="1612.54" width="11.62" height="6.26"/><rect x="1776.20" y="1612.54" width="10.91" height="6.26"/><rect x="2072.55" y="1612.54" width="11.62" height="6.26"/><rect x="2089.20" y="1612.54" width="10.91" height="6.26"/><rect x="167.45" y="877.84" width="11.62" height="6.26"/><rect x="184.10" y="877.84" width="10.91" height="6.26"/><rect x="119.57" y="540.34" width="11.62" height="6.26"/><rect x="136.22" y="540.34" width="10.91" height="6.26"/><rect x="1503.83" y="156.51" width="10.51" height="5.89"/><rect x="1518.88" y="156.51" width="9.86" height="5.89"/><rect x="1611.52" y="183.36" width="8.40" height="4.94"/><rect x="1623.55" y="183.36" width="7.88" height="4.94"/><rect x="1740.00" y="183.36" width="8.40" height="4.94"/><rect x="1752.04" y="183.36" width="7.88" height="4.94"/><rect x="1611.52" y="283.36" width="8.40" height="4.94"/><rect x="1623.55" y="283.36" width="7.88" height="4.94"/><rect x="1740.00" y="283.36" width="8.40" height="4.94"/><rect x="1752.04" y="283.36" width="7.88" height="4.94"/><rect x="1815.42" y="377.66" width="8.40" height="4.94"/><rect x="1827.45" y="377.66" width="7.88" height="4.94"/><rect x="1889.12" y="377.66" width="8.40" height="4.94"/><rect x="1901.15" y="377.66" width="7.88" height="4.94"/></g>
</svg></body></html>
